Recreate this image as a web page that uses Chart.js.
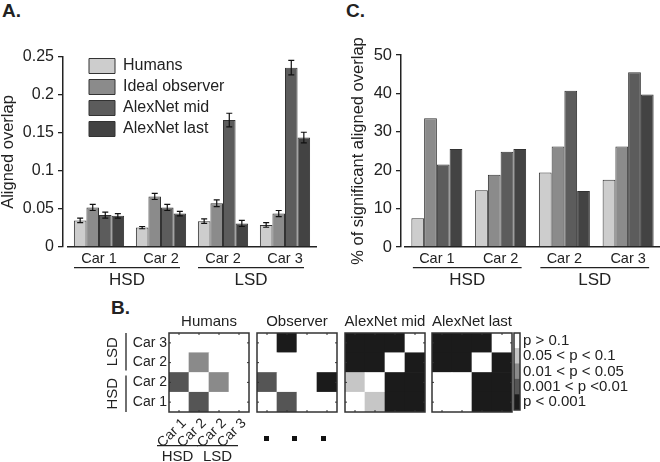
<!DOCTYPE html>
<html>
<head>
<meta charset="utf-8">
<script src="https://cdn.jsdelivr.net/npm/chart.js@4.4.0/dist/chart.umd.min.js"></script>
<style>
  body { margin: 0; background: #fff; width: 660px; height: 462px; position: relative; overflow: hidden;
         font-family: "Liberation Sans", Arial, sans-serif; color: #222; }
  canvas { position: absolute; }
  .panel { position: absolute; font-weight: bold; font-size: 19px; }
  .dot { position: absolute; width: 5px; height: 5px; background: #111; }
</style>
</head>
<body>
<div class="panel" style="left:2px;top:0px">A.</div>
<div class="panel" style="left:346px;top:0px">C.</div>
<div class="panel" style="left:111px;top:297px">B.</div>

<canvas id="chartA" style="left:0;top:0"></canvas>
<canvas id="chartC" style="left:330px;top:0"></canvas>
<canvas id="heatHumans" style="left:100px;top:312px"></canvas>
<canvas id="heatObserver" style="left:245px;top:312px"></canvas>
<canvas id="heatMid" style="left:333px;top:312px"></canvas>
<canvas id="heatLast" style="left:420px;top:312px"></canvas>
<canvas id="colorbar" style="left:505px;top:312px"></canvas>

<div class="dot" style="left:264px;top:436px"></div>
<div class="dot" style="left:292px;top:436px"></div>
<div class="dot" style="left:321px;top:436px"></div>

<script>
// categories
const cars = ["Car 1", "Car 2", "Car 2", "Car 3"];
const carGroups = ["HSD", "HSD", "LSD", "LSD"];
const seriesNames = ["Humans", "Ideal observer", "AlexNet mid", "AlexNet last"];

// panel A: aligned overlap (mean and error)
const overlapHumans = [0.035, 0.0255, 0.034, 0.029];
const overlapIdeal  = [0.052, 0.0665, 0.0575, 0.044];
const overlapMid    = [0.042, 0.052, 0.167, 0.236];
const overlapLast   = [0.041, 0.044, 0.031, 0.144];
const errHumans = [0.003, 0.0015, 0.003, 0.003];
const errIdeal  = [0.004, 0.004, 0.0045, 0.004];
const errMid    = [0.004, 0.004, 0.009, 0.0095];
const errLast   = [0.003, 0.003, 0.004, 0.007];

// panel C: % of significant aligned overlap
const sigHumans = [7.5, 14.8, 19.4, 17.5];
const sigIdeal  = [33.5, 18.8, 26.2, 26.2];
const sigMid    = [21.5, 24.8, 40.7, 45.5];
const sigLast   = [25.5, 25.5, 14.6, 39.7];

// panel B: significance level per cell, rows bottom->top, columns left->right
// 0: p > 0.1, 1: 0.05-0.1, 2: 0.01-0.05, 3: 0.001-0.01, 4: p < 0.001
const pLabels = ["p > 0.1", "0.05 < p < 0.1", "0.01 < p < 0.05", "0.001 < p <0.01", "p < 0.001"];
const levelsHumans   = [[0, 3, 0, 0], [3, 0, 2, 0], [0, 2, 0, 0], [0, 0, 0, 0]];
const levelsObserver = [[0, 3, 0, 0], [3, 0, 0, 4], [0, 0, 0, 0], [0, 4, 0, 0]];
const levelsMid      = [[0, 1, 4, 4], [1, 0, 4, 4], [4, 4, 0, 4], [4, 4, 4, 0]];
const levelsLast     = [[0, 0, 4, 4], [0, 0, 4, 4], [4, 4, 0, 4], [4, 4, 4, 0]];

const seriesColors = ["#cdcdcd", "#8b8b8b", "#5c5c5c", "#434343"];
const levelColors = ["#ffffff", "#c6c6c6", "#8a8a8a", "#555555", "#1b1b1b"];
const FONT = '"Liberation Sans", Arial, sans-serif';
const INK = "#222";

function spansOf(groups) {
  const spans = [];
  groups.forEach((g, i) => {
    const last = spans[spans.length - 1];
    if (last && last.name === g) last.to = i;
    else spans.push({ name: g, from: i, to: i });
  });
  return spans;
}

// shift the x axis a few px right of the y axis (matlab style gap), and place the legend
const layoutTweak = {
  id: "layoutTweak",
  afterLayout(chart, args, opts) {
    const x = chart.scales.x, area = chart.chartArea;
    if (opts.xShift) {
      x.left = area.left + opts.xShift;
      x.configure();
    }
    if (opts.legendAt && chart.legend) {
      chart.legend.left = area.left + opts.legendAt[0];
      chart.legend.top = area.top + opts.legendAt[1];
    }
  }
};

const groupLabels = {
  id: "groupLabels",
  afterDraw(chart, args, opts) {
    if (!opts.spans) return;
    const ctx = chart.ctx, x = chart.scales.x;
    ctx.save();
    ctx.strokeStyle = INK;
    ctx.fillStyle = INK;
    ctx.lineWidth = 1.3;
    ctx.font = opts.font;
    ctx.textAlign = "center";
    ctx.textBaseline = "middle";
    opts.spans.forEach(s => {
      const a = x.getPixelForValue(s.from) + opts.startOff;
      const b = x.getPixelForValue(s.to) + opts.endOff;
      ctx.beginPath();
      ctx.moveTo(a, opts.lineY);
      ctx.lineTo(b, opts.lineY);
      ctx.stroke();
      ctx.fillText(s.name, (a + b) / 2, opts.textY);
    });
    ctx.restore();
  }
};

const errorBars = {
  id: "errorBars",
  afterDatasetsDraw(chart, args, opts) {
    if (!opts.errors) return;
    const ctx = chart.ctx, y = chart.scales.y;
    ctx.save();
    ctx.strokeStyle = "#111";
    ctx.lineWidth = 1.2;
    chart.data.datasets.forEach((ds, di) => {
      const meta = chart.getDatasetMeta(di);
      meta.data.forEach((bar, i) => {
        const v = ds.data[i], e = opts.errors[di][i];
        const top = y.getPixelForValue(v + e), bot = y.getPixelForValue(v - e);
        ctx.beginPath();
        ctx.moveTo(bar.x, top); ctx.lineTo(bar.x, bot);
        ctx.moveTo(bar.x - 3, top); ctx.lineTo(bar.x + 3, top);
        ctx.moveTo(bar.x - 3, bot); ctx.lineTo(bar.x + 3, bot);
        ctx.stroke();
      });
    });
    ctx.restore();
  }
};

function barChart(id, width, height, sets, yOpts, extra) {
  const canvas = document.getElementById(id);
  canvas.width = width; canvas.height = height;
  return new Chart(canvas, {
    type: "bar",
    data: {
      labels: cars,
      datasets: sets.map((d, i) => ({
        label: seriesNames[i],
        data: d,
        backgroundColor: seriesColors[i],
        borderColor: "#333",
        borderWidth: 1,
        barPercentage: 1,
        categoryPercentage: extra.catPct
      }))
    },
    options: {
      responsive: false,
      animation: false,
      events: [],
      layout: { padding: extra.padding },
      scales: {
        x: {
          grid: { display: false, drawTicks: false },
          border: { display: true, color: INK, width: 1.5 },
          ticks: { color: INK, font: { family: FONT, size: 14.5 }, padding: 3, maxRotation: 0 },
          afterFit: s => { s.height = extra.xHeight; }
        },
        y: Object.assign({
          beginAtZero: true,
          grid: { display: true, drawOnChartArea: false, drawTicks: true, tickLength: 5, color: INK, lineWidth: 1.3 },
          border: { display: true, color: INK, width: 1.5 },
          afterFit: s => { s.width = extra.yWidth; }
        }, yOpts)
      },
      plugins: {
        legend: extra.legend || { display: false },
        tooltip: { enabled: false },
        layoutTweak: { xShift: extra.xShift, legendAt: extra.legendAt },
        groupLabels: {
          spans: spansOf(carGroups), font: "17px " + FONT,
          lineY: 267.7, textY: 280, startOff: extra.lineOff[0], endOff: extra.lineOff[1]
        },
        errorBars: { errors: extra.errors }
      }
    },
    plugins: [layoutTweak, groupLabels, errorBars]
  });
}

barChart("chartA", 330, 300,
  [overlapHumans, overlapIdeal, overlapMid, overlapLast],
  {
    min: 0, max: 0.25,
    ticks: { stepSize: 0.05, color: INK, font: { family: FONT, size: 16 }, padding: 4,
             callback: v => String(Math.round(v * 100) / 100) },
    title: { display: true, text: "Aligned overlap", color: INK,
             font: { family: FONT, size: 16.5, lineHeight: 1 }, padding: { top: 0, bottom: 0 } }
  },
  {
    catPct: 0.81, padding: { left: 0, top: 57, right: 14, bottom: 0 },
    xHeight: 53, yWidth: 63, xShift: 5, lineOff: [-25, 19],
    errors: [errHumans, errIdeal, errMid, errLast],
    legend: {
      display: true, position: "chartArea", align: "start",
      labels: { boxWidth: 26, boxHeight: 15, padding: 5, color: INK, font: { family: FONT, size: 16 } }
    },
    legendAt: [21, -4]
  });

barChart("chartC", 330, 300,
  [sigHumans, sigIdeal, sigMid, sigLast],
  {
    min: 0, max: 50,
    ticks: { stepSize: 10, color: INK, font: { family: FONT, size: 16.5 }, padding: 4 },
    title: { display: true, text: "% of significant aligned overlap", color: INK,
             font: { family: FONT, size: 16.5, lineHeight: 1 }, padding: { top: 20, bottom: 0 } }
  },
  {
    catPct: 0.8, padding: { left: 0, top: 55, right: 0, bottom: 0 },
    xHeight: 53, yWidth: 71, xShift: 4, lineOff: [-24, 21]
  });

// panel B heatmaps
const heatFrame = {
  id: "heatFrame",
  afterDraw(chart, args, opts) {
    const ctx = chart.ctx, a = chart.chartArea;
    ctx.save();
    ctx.strokeStyle = "#333";
    ctx.lineWidth = 1.5;
    ctx.strokeRect(a.left, a.top, a.right - a.left, a.bottom - a.top);
    if (opts.ticks) {
      ctx.lineWidth = 1;
      const n = opts.ticks;
      for (let i = 0; i < n; i++) {
        const fx = a.left + (i + 0.5) * (a.right - a.left) / n;
        const fy = a.top + (i + 0.5) * (a.bottom - a.top) / n;
        ctx.beginPath();
        ctx.moveTo(fx, a.bottom); ctx.lineTo(fx, a.bottom - 2);
        ctx.moveTo(fx, a.top); ctx.lineTo(fx, a.top + 2);
        ctx.moveTo(a.left, fy); ctx.lineTo(a.left + 2, fy);
        ctx.moveTo(a.right, fy); ctx.lineTo(a.right - 2, fy);
        ctx.stroke();
      }
    }
    if (opts.title) {
      ctx.fillStyle = INK;
      ctx.font = "15px " + FONT;
      ctx.textAlign = "center";
      ctx.textBaseline = "middle";
      ctx.fillText(opts.title, (a.left + a.right) / 2, a.top - 11);
    }
    ctx.restore();
  }
};

const heatBrackets = {
  id: "heatBrackets",
  afterDraw(chart, args, opts) {
    if (!opts.enabled) return;
    const ctx = chart.ctx, x = chart.scales.x, y = chart.scales.y;
    ctx.save();
    ctx.strokeStyle = INK;
    ctx.fillStyle = INK;
    ctx.lineWidth = 1.3;
    ctx.font = "15px " + FONT;
    ctx.textAlign = "center";
    ctx.textBaseline = "middle";
    spansOf(carGroups).forEach(s => {
      // left side, rows
      const t = y.getPixelForValue(s.to + 1) + (s.to === 3 ? 0 : 3);
      const b = y.getPixelForValue(s.from) - (s.from === 0 ? 0 : 2);
      ctx.beginPath(); ctx.moveTo(26, t); ctx.lineTo(26, b); ctx.stroke();
      ctx.save();
      ctx.translate(13, (t + b) / 2);
      ctx.rotate(-Math.PI / 2);
      ctx.fillText(s.name, 0, 0);
      ctx.restore();
      // bottom, columns
      const l = x.getPixelForValue(s.from) - 22;
      const r = x.getPixelForValue(s.to) - 1;
      ctx.beginPath(); ctx.moveTo(l, 133.7); ctx.lineTo(r, 133.7); ctx.stroke();
      ctx.fillText(s.name, (l + r) / 2, 145);
    });
    ctx.restore();
  }
};

function heatmap(id, levels, title, withLabels) {
  const canvas = document.getElementById(id);
  canvas.width = withLabels ? 160 : 104;
  canvas.height = withLabels ? 150 : 110;
  return new Chart(canvas, {
    type: "bar",
    data: {
      labels: cars,
      datasets: levels.map(row => ({
        data: row.map(() => 1),
        backgroundColor: row.map(l => levelColors[l]),
        borderWidth: 0,
        barPercentage: 1,
        categoryPercentage: 1
      }))
    },
    options: {
      responsive: false,
      animation: false,
      events: [],
      layout: { padding: withLabels ? { left: 0, top: 21, right: 11, bottom: 0 } : { left: 12, top: 21, right: 12, bottom: 10 } },
      scales: {
        x: {
          stacked: true,
          display: withLabels,
          grid: { display: false, drawTicks: false },
          border: { display: false },
          ticks: { color: INK, font: { family: FONT, size: 14 }, minRotation: 45, maxRotation: 45,
                   padding: 3, labelOffset: 5, autoSkip: false },
          afterFit: s => { if (withLabels) s.height = 50; }
        },
        y: {
          stacked: true,
          display: withLabels,
          min: 0, max: levels.length,
          grid: { display: false, drawTicks: false },
          border: { display: false },
          afterBuildTicks: s => { s.ticks = cars.map((c, i) => ({ value: i + 0.5 })); },
          ticks: { color: INK, font: { family: FONT, size: 14 }, padding: 2, autoSkip: false, callback: (v, i) => cars[i] },
          afterFit: s => { if (withLabels) s.width = 69; }
        }
      },
      plugins: {
        legend: { display: false },
        tooltip: { enabled: false },
        heatFrame: { title: title, ticks: 4 },
        heatBrackets: { enabled: withLabels }
      }
    },
    plugins: [heatFrame, heatBrackets]
  });
}

heatmap("heatHumans", levelsHumans, "Humans", true);
heatmap("heatObserver", levelsObserver, "Observer", false);
heatmap("heatMid", levelsMid, "AlexNet mid", false);
heatmap("heatLast", levelsLast, "AlexNet last", false);

// colour bar with p-value labels
(function () {
  const canvas = document.getElementById("colorbar");
  canvas.width = 155; canvas.height = 110;
  const bottomUp = pLabels.map((p, i) => i).reverse();
  new Chart(canvas, {
    type: "bar",
    data: {
      labels: [""],
      datasets: bottomUp.map(l => ({
        data: [1],
        backgroundColor: levelColors[l],
        borderWidth: 0,
        barPercentage: 1,
        categoryPercentage: 1
      }))
    },
    options: {
      responsive: false,
      animation: false,
      events: [],
      layout: { padding: { left: 9, top: 21, right: 0, bottom: 10 } },
      scales: {
        x: { stacked: true, display: false },
        y: {
          stacked: true,
          position: "right",
          min: 0, max: pLabels.length,
          grid: { display: false, drawTicks: false },
          border: { display: false },
          afterBuildTicks: s => { s.ticks = bottomUp.map((l, i) => ({ value: i + 0.5 })); },
          ticks: { color: INK, font: { family: FONT, size: 15 }, padding: 3, autoSkip: false,
                   callback: (v, i) => pLabels[bottomUp[i]] },
          afterFit: s => { s.width = 140; }
        }
      },
      plugins: { legend: { display: false }, tooltip: { enabled: false }, heatFrame: {} }
    },
    plugins: [heatFrame]
  });
})();
</script>
</body>
</html>
